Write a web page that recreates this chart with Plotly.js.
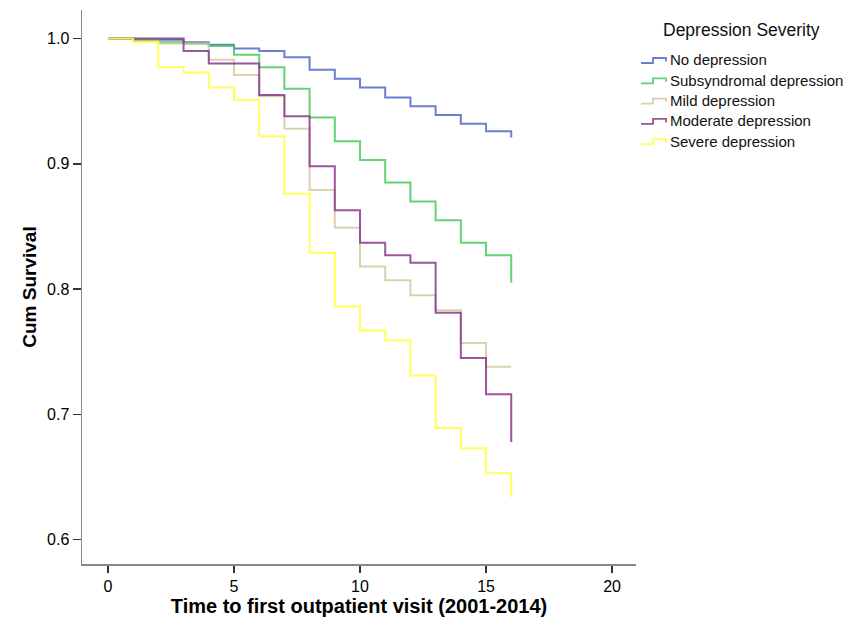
<!DOCTYPE html>
<html>
<head>
<meta charset="utf-8">
<script src="https://cdn.plot.ly/plotly-3.0.1.min.js"></script>
<style>html,body{margin:0;padding:0;background:#fff;}#chart{width:858px;height:634px;}</style>
</head>
<body>
<div id="chart"></div>
<script>
// ---- Data ----
const time = [0,1,2,3,4,5,6,7,8,9,10,11,12,13,14,15,16];
const noDepression      = [1.000,0.999,0.999,0.997,0.995,0.992,0.990,0.985,0.975,0.968,0.961,0.953,0.946,0.939,0.932,0.926,0.921];
const subsyndromal      = [1.000,0.999,0.997,0.996,0.994,0.987,0.977,0.960,0.937,0.918,0.903,0.885,0.870,0.855,0.837,0.827,0.805];
const mildDepression    = [1.000,0.998,0.996,0.996,0.983,0.971,0.954,0.928,0.879,0.849,0.818,0.807,0.795,0.783,0.757,0.738,0.738];
const moderateDepression= [1.000,1.000,1.000,0.990,0.980,0.980,0.955,0.938,0.898,0.863,0.837,0.827,0.821,0.781,0.745,0.716,0.678];
const severeDepression  = [1.000,0.997,0.977,0.973,0.961,0.951,0.922,0.876,0.829,0.786,0.767,0.759,0.731,0.689,0.673,0.653,0.634];
const seriesNames = ['No depression','Subsyndromal depression','Mild depression','Moderate depression','Severe depression'];
const seriesValues = [noDepression, subsyndromal, mildDepression, moderateDepression, severeDepression];
const xTicks = [0,5,10,15,20];
const yTicks = [0.6,0.7,0.8,0.9,1.0];
const yTickLabels = ['0.6','0.7','0.8','0.9','1.0'];
const legendTitle = 'Depression Severity';
const xTitle = 'Time to first outpatient visit (2001-2014)';
const yTitle = 'Cum Survival';

// ---- Styles ----
const colors = ['rgba(80,105,200,0.85)','rgba(60,200,80,0.8)','rgba(205,195,145,0.75)','rgba(135,55,140,0.85)','rgba(255,255,70,0.9)'];
const FONT = 'Arial, "Liberation Sans", Helvetica, sans-serif';

const traces = seriesNames.map((name,i)=>({
  type:'scatter', mode:'lines', name:name,
  x: time, y: seriesValues[i],
  line:{shape:'hv', color:colors[i], width:2},
  hoverinfo:'skip'
}));

// plot area in px
const L = 82, R = 636, T = 10, B = 564;
const W = 858, H = 634;
const px = v => (v - L) / (R - L);
const py = v => (B - v) / (B - T);

const shapes = [];
const annotations = [];
annotations.push({xref:'paper', yref:'paper', x:px(741.5), y:py(30), xanchor:'center', yanchor:'middle',
  text:legendTitle, showarrow:false, font:{family:FONT, size:17.5, color:'#111'}});
seriesNames.forEach((name,i)=>{
  const yc = 60 + i*20.3;
  const x0 = 641;
  shapes.push({type:'path', xref:'paper', yref:'paper',
    path:`M ${px(x0)},${py(yc+3)} L ${px(x0+12)},${py(yc+3)} L ${px(x0+12)},${py(yc-2)} L ${px(x0+25)},${py(yc-2)} L ${px(x0+25)},${py(yc+1.5)}`,
    line:{color:colors[i], width:1.8}});
  annotations.push({xref:'paper', yref:'paper', x:px(668), y:py(yc), xanchor:'left', yanchor:'middle',
    text:name, showarrow:false, font:{family:FONT, size:15, color:'#111'}});
});

const layout = {
  width:W, height:H,
  margin:{l:L, r:W-R, t:T, b:H-B, pad:0},
  paper_bgcolor:'#fff', plot_bgcolor:'#fff',
  showlegend:false,
  font:{family:FONT, color:'#111'},
  xaxis:{range:[-1.03,20.95], tickvals:xTicks, ticks:'outside', ticklen:7, tickwidth:1.5, tickcolor:'#333',
    showline:true, linecolor:'#888', linewidth:1.5, showgrid:false, zeroline:false,
    tickfont:{family:FONT, size:16, color:'#000'},
    title:{text:'<b>'+xTitle+'</b>', font:{family:FONT, size:20, color:'#000'}, standoff:0}},
  yaxis:{range:[0.5805,1.0228], tickvals:yTicks, ticktext:yTickLabels, ticks:'outside', ticklen:8, tickwidth:1.5, tickcolor:'#333',
    showline:true, linecolor:'#888', linewidth:1.5, showgrid:false, zeroline:false,
    tickfont:{family:FONT, size:16, color:'#000'},
    title:{text:'<b>'+yTitle+'</b>', font:{family:FONT, size:19, color:'#000'}, standoff:5}},
  shapes:shapes,
  annotations:annotations
};

Plotly.newPlot('chart', traces, layout, {displayModeBar:false, staticPlot:true});
</script>
</body>
</html>
